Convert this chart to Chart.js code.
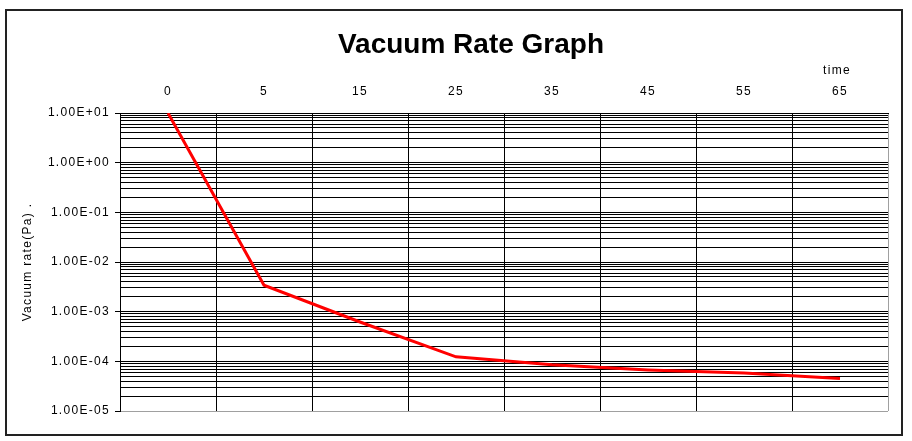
<!DOCTYPE html>
<html>
<head>
<meta charset="utf-8">
<script src="https://cdn.jsdelivr.net/npm/chart.js@4.4.1/dist/chart.umd.min.js"></script>
<style>
html,body{margin:0;padding:0;background:#fff;}
#wrap{width:912px;height:441px;position:relative;}
</style>
</head>
<body>
<div id="wrap"><canvas id="c" width="912" height="441"></canvas></div>
<script>
const categories = ['0', '5', '15', '25', '35', '45', '55', '65'];
const vacuumRate = [10, 3.4e-3, 6.2e-4, 1.23e-4, 8.5e-5, 6.7e-5, 5.8e-5, 4.5e-5];
const decades = [1e-5, 1e-4, 1e-3, 1e-2, 1e-1, 1e0];
const multipliers = [1, 2, 3, 4, 5, 6, 7, 8, 9];
const yMin = 1e-5;
const yMax = 1e1;
const chartTitle = 'Vacuum Rate Graph';
const xTitle = 'time';
const yTitle = 'Vacuum rate(Pa) .';

const yTickValues = decades.flatMap(d => multipliers.map(m => +(m * d).toPrecision(3))).concat([yMax]);

function isPow10(v) {
  const l = Math.log10(v);
  return Math.abs(l - Math.round(l)) < 1e-9;
}
function fmtExp(v) {
  const e = Math.round(Math.log10(v));
  const mant = (v / Math.pow(10, e)).toFixed(2);
  const sign = e < 0 ? '-' : '+';
  return mant + 'E' + sign + String(Math.abs(e)).padStart(2, '0');
}

const smallFont = {family: 'Liberation Sans', size: 12};
const spacing = '1.3px';

const textStyle = {
  id: 'textStyle',
  beforeUpdate(chart) { chart.ctx.letterSpacing = spacing; },
  beforeDraw(chart) { chart.ctx.letterSpacing = spacing; },
  afterDraw(chart) {
    const ctx = chart.ctx;
    ctx.save();
    ctx.letterSpacing = '0px';
    ctx.fillStyle = '#000';
    ctx.font = 'bold 28px "Liberation Sans"';
    ctx.textAlign = 'center';
    ctx.textBaseline = 'alphabetic';
    ctx.fillText(chartTitle, 471, 53);
    ctx.letterSpacing = spacing;
    ctx.font = '12px "Liberation Sans"';
    const xs = chart.scales.x;
    ctx.fillText(xTitle, xs.getPixelForValue(categories.length - 1) - 3, 74);
    ctx.strokeStyle = '#222';
    ctx.lineWidth = 2;
    ctx.strokeRect(6, 10, 896, 425);
    ctx.restore();
  }
};

new Chart(document.getElementById('c'), {
  type: 'line',
  data: {
    labels: categories,
    datasets: [{
      data: vacuumRate,
      borderColor: '#ff0000',
      borderWidth: 3,
      pointRadius: 0,
      tension: 0,
      fill: false
    }]
  },
  options: {
    responsive: false,
    animation: false,
    devicePixelRatio: 1,
    layout: {padding: {left: 10, right: 24, top: 60, bottom: 30}},
    plugins: {legend: {display: false}, title: {display: false}, tooltip: {enabled: false}},
    scales: {
      x: {
        type: 'category',
        position: 'top',
        offset: true,
        grid: {
          offset: true,
          drawTicks: false,
          lineWidth: 1,
          color: ctx => ctx.tick ? '#000' : '#a0a0a0'
        },
        border: {display: true, color: '#000', width: 1},
        ticks: {padding: 14, color: '#000', font: smallFont, maxRotation: 0, autoSkip: false},
        afterFit: s => { s.height = 53; }
      },
      y: {
        type: 'logarithmic',
        min: yMin,
        max: yMax,
        afterBuildTicks: s => { s.ticks = yTickValues.map(v => ({value: v, major: isPow10(v)})); },
        grid: {
          lineWidth: 1,
          tickLength: 5,
          color: ctx => (ctx.tick && ctx.tick.value === yMin) ? '#a0a0a0' : '#000',
          tickColor: ctx => (ctx.tick && isPow10(ctx.tick.value)) ? '#000' : 'rgba(0,0,0,0)'
        },
        border: {display: true, color: '#000', width: 1},
        ticks: {
          autoSkip: false,
          padding: 5,
          color: '#000',
          font: smallFont,
          callback: v => isPow10(v) ? fmtExp(v) : ''
        },
        title: {display: true, text: yTitle, color: '#000', font: smallFont, padding: {top: 10, bottom: 0}},
        afterFit: s => { s.width = 110; }
      }
    }
  },
  plugins: [textStyle]
});
</script>
</body>
</html>
